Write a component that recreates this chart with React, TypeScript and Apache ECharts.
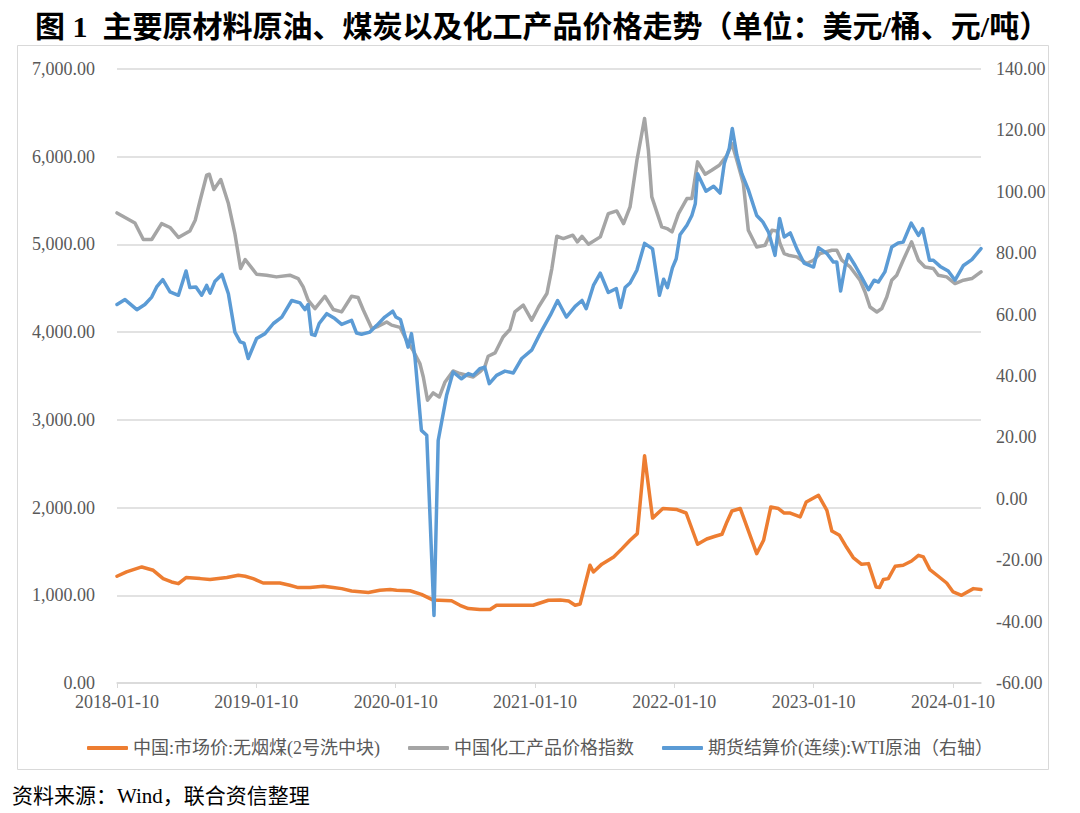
import { useEffect, useRef } from 'react';
import * as echarts from 'echarts';

// 中国:市场价:无烟煤(2号洗中块), 元/吨 (left axis)
const coalPrice: [string, number][] = [
  ['2018-01-10', 1217], ['2018-02-04', 1266], ['2018-03-16', 1323], ['2018-04-15', 1285], ['2018-05-11', 1190],
  ['2018-06-02', 1152], ['2018-06-20', 1133], ['2018-07-10', 1202], ['2018-08-16', 1190], ['2018-09-11', 1179],
  ['2018-10-25', 1202], ['2018-11-24', 1228], ['2018-12-12', 1217], ['2019-01-02', 1190], ['2019-01-28', 1140],
  ['2019-03-13', 1140], ['2019-04-08', 1114], ['2019-04-30', 1088], ['2019-05-31', 1088], ['2019-07-05', 1103],
  ['2019-07-31', 1088], ['2019-08-22', 1076], ['2019-09-17', 1049], ['2019-10-31', 1031], ['2019-11-30', 1057],
  ['2019-12-27', 1065], ['2020-01-13', 1057], ['2020-02-17', 1052], ['2020-03-18', 1011], ['2020-04-18', 945],
  ['2020-06-05', 938], ['2020-06-27', 886], ['2020-07-19', 848], ['2020-08-18', 837], ['2020-09-14', 837],
  ['2020-10-01', 886], ['2021-01-05', 886], ['2021-02-14', 943], ['2021-03-17', 945], ['2021-04-08', 935],
  ['2021-04-25', 886], ['2021-05-08', 900], ['2021-06-03', 1342], ['2021-06-12', 1266], ['2021-07-04', 1355],
  ['2021-08-04', 1437], ['2021-08-26', 1532], ['2021-09-16', 1627], ['2021-10-05', 1703], ['2021-10-24', 2590],
  ['2021-11-14', 1880], ['2021-12-11', 1989], ['2022-01-17', 1977], ['2022-02-10', 1938], ['2022-03-12', 1582],
  ['2022-04-05', 1642], ['2022-04-27', 1673], ['2022-05-15', 1696], ['2022-05-28', 1836], ['2022-06-10', 1961],
  ['2022-07-02', 1989], ['2022-08-14', 1475], ['2022-09-01', 1627], ['2022-09-20', 2007], ['2022-10-10', 1989],
  ['2022-10-25', 1938], ['2022-11-10', 1938], ['2022-12-06', 1893], ['2022-12-22', 2064], ['2023-01-23', 2140],
  ['2023-02-14', 1969], ['2023-02-27', 1733], ['2023-03-19', 1684], ['2023-04-07', 1544], ['2023-04-24', 1430],
  ['2023-05-16', 1353], ['2023-06-03', 1361], ['2023-06-23', 1095], ['2023-07-02', 1088], ['2023-07-12', 1179],
  ['2023-07-25', 1190], ['2023-08-12', 1331], ['2023-09-02', 1342], ['2023-09-24', 1391], ['2023-10-12', 1456],
  ['2023-10-25', 1437], ['2023-11-11', 1293], ['2023-12-03', 1217], ['2023-12-25', 1140], ['2024-01-11', 1038],
  ['2024-02-02', 1000], ['2024-03-04', 1076], ['2024-03-24', 1065]
];

// 中国化工产品价格指数 (left axis)
const chemIndex: [string, number][] = [
  ['2018-01-10', 5359], ['2018-02-26', 5245], ['2018-03-20', 5056], ['2018-04-11', 5056], ['2018-05-07', 5238],
  ['2018-05-29', 5193], ['2018-06-20', 5079], ['2018-07-20', 5154], ['2018-08-03', 5276], ['2018-08-16', 5504],
  ['2018-09-02', 5789], ['2018-09-09', 5800], ['2018-09-21', 5626], ['2018-10-09', 5740], ['2018-10-29', 5466],
  ['2018-11-15', 5124], ['2018-11-30', 4725], ['2018-12-12', 4828], ['2019-01-11', 4660], ['2019-02-06', 4649],
  ['2019-03-04', 4630], ['2019-04-08', 4649], ['2019-04-30', 4611], ['2019-05-13', 4515], ['2019-05-26', 4364],
  ['2019-06-13', 4269], ['2019-07-09', 4409], ['2019-07-31', 4258], ['2019-08-22', 4231], ['2019-09-17', 4409],
  ['2019-10-04', 4395], ['2019-10-18', 4250], ['2019-11-09', 4041], ['2019-11-26', 4067], ['2019-12-18', 4115],
  ['2019-12-31', 4080], ['2020-01-22', 4055], ['2020-02-08', 3908], ['2020-02-25', 3794], ['2020-03-14', 3642],
  ['2020-03-23', 3489], ['2020-04-03', 3224], ['2020-04-18', 3307], ['2020-05-04', 3261], ['2020-05-19', 3432],
  ['2020-06-09', 3558], ['2020-06-27', 3528], ['2020-08-01', 3489], ['2020-08-18', 3546], ['2020-08-31', 3603],
  ['2020-09-09', 3725], ['2020-09-27', 3763], ['2020-10-18', 3945], ['2020-11-05', 4030], ['2020-11-18', 4230],
  ['2020-12-10', 4307], ['2021-01-01', 4136], ['2021-01-19', 4287], ['2021-02-10', 4440], ['2021-02-23', 4725],
  ['2021-03-08', 5093], ['2021-03-25', 5067], ['2021-04-19', 5105], ['2021-05-01', 5029], ['2021-05-13', 5093],
  ['2021-05-30', 5002], ['2021-06-30', 5086], ['2021-07-21', 5352], ['2021-08-12', 5382], ['2021-08-30', 5238],
  ['2021-09-16', 5428], ['2021-10-04', 5960], ['2021-10-24', 6436], ['2021-11-03', 6074], ['2021-11-12', 5542],
  ['2021-12-08', 5200], ['2021-12-22', 5181], ['2022-01-04', 5143], ['2022-01-21', 5352], ['2022-02-12', 5523],
  ['2022-02-25', 5523], ['2022-03-12', 5941], ['2022-04-01', 5800], ['2022-04-18', 5846], ['2022-05-08', 5903],
  ['2022-05-28', 6017], ['2022-06-10', 6150], ['2022-06-23', 5960], ['2022-07-10', 5694], ['2022-07-23', 5162],
  ['2022-08-14', 4971], ['2022-09-05', 4991], ['2022-09-23', 5162], ['2022-10-06', 5154], ['2022-10-14', 5010],
  ['2022-10-25', 4896], ['2022-11-05', 4877], ['2022-11-27', 4858], ['2022-12-23', 4782], ['2023-01-10', 4820],
  ['2023-01-27', 4896], ['2023-02-27', 4934], ['2023-03-12', 4934], ['2023-03-25', 4820], ['2023-04-16', 4743],
  ['2023-05-12', 4592], ['2023-05-25', 4458], ['2023-06-07', 4287], ['2023-06-25', 4230], ['2023-07-08', 4269],
  ['2023-07-21', 4401], ['2023-08-03', 4592], ['2023-08-16', 4649], ['2023-09-02', 4820], ['2023-09-24', 5029],
  ['2023-10-12', 4820], ['2023-10-29', 4743], ['2023-11-20', 4725], ['2023-12-03', 4649], ['2023-12-25', 4630],
  ['2024-01-16', 4554], ['2024-02-07', 4592], ['2024-02-29', 4611], ['2024-03-24', 4687]
];

// 期货结算价(连续):WTI原油, 美元/桶 (right axis)
const wtiPrice: [string, number][] = [
  ['2018-01-10', 63.3], ['2018-01-31', 64.9], ['2018-03-03', 61.6], ['2018-03-24', 63.3], ['2018-04-11', 65.7],
  ['2018-04-24', 69.0], ['2018-05-10', 71.4], ['2018-05-29', 67.4], ['2018-06-20', 66.3], ['2018-07-10', 74.2],
  ['2018-07-20', 68.8], ['2018-08-05', 69.0], ['2018-08-20', 66.3], ['2018-09-02', 69.5], ['2018-09-11', 67.0],
  ['2018-09-24', 70.9], ['2018-10-12', 73.1], ['2018-10-29', 66.8], ['2018-11-15', 54.3], ['2018-11-29', 51.1],
  ['2018-12-09', 50.7], ['2018-12-20', 45.7], ['2019-01-11', 52.2], ['2019-02-02', 53.8], ['2019-02-24', 57.1],
  ['2019-03-18', 59.2], ['2019-04-13', 64.6], ['2019-05-05', 63.8], ['2019-05-18', 61.6], ['2019-05-26', 63.3],
  ['2019-06-04', 53.6], ['2019-06-13', 53.2], ['2019-06-24', 57.1], ['2019-07-14', 60.3], ['2019-08-04', 58.7],
  ['2019-08-22', 56.8], ['2019-09-17', 58.1], ['2019-09-30', 54.0], ['2019-10-13', 53.6], ['2019-11-04', 54.3],
  ['2019-11-22', 56.5], ['2019-12-13', 59.2], ['2020-01-03', 61.1], ['2020-01-11', 59.2], ['2020-01-23', 58.4],
  ['2020-02-12', 49.4], ['2020-02-21', 53.8], ['2020-03-01', 46.2], ['2020-03-18', 22.3], ['2020-04-01', 20.7],
  ['2020-04-20', -38.0], ['2020-05-01', 19.0], ['2020-05-23', 33.7], ['2020-06-09', 41.3], ['2020-07-01', 39.1],
  ['2020-07-19', 40.8], ['2020-08-01', 40.2], ['2020-08-18', 42.4], ['2020-08-31', 42.9], ['2020-09-12', 37.5],
  ['2020-10-01', 40.2], ['2020-10-23', 41.6], ['2020-11-14', 41.0], ['2020-12-06', 45.7], ['2021-01-01', 48.4],
  ['2021-01-23', 53.8], ['2021-02-19', 59.8], ['2021-03-10', 64.6], ['2021-04-02', 59.2], ['2021-04-25', 62.7],
  ['2021-05-13', 64.6], ['2021-05-24', 61.9], ['2021-06-12', 69.5], ['2021-06-30', 73.5], ['2021-07-21', 67.2],
  ['2021-08-11', 68.5], ['2021-08-22', 62.3], ['2021-09-03', 68.8], ['2021-09-16', 70.3], ['2021-10-04', 74.5],
  ['2021-10-24', 83.2], ['2021-11-14', 81.4], ['2021-12-02', 66.3], ['2021-12-13', 71.5], ['2021-12-23', 68.8],
  ['2022-01-05', 75.2], ['2022-01-15', 78.2], ['2022-01-25', 86.0], ['2022-02-12', 89.1], ['2022-02-25', 92.3],
  ['2022-03-06', 96.1], ['2022-03-12', 105.9], ['2022-04-03', 100.2], ['2022-04-23', 101.8], ['2022-05-10', 99.6],
  ['2022-05-21', 109.2], ['2022-06-03', 114.1], ['2022-06-11', 120.6], ['2022-06-23', 111.9], ['2022-07-06', 105.9],
  ['2022-07-23', 100.7], ['2022-08-14', 92.3], ['2022-08-30', 90.2], ['2022-09-14', 86.9], ['2022-10-01', 79.3],
  ['2022-10-13', 91.3], ['2022-10-25', 85.3], ['2022-11-10', 86.6], ['2022-11-27', 81.5], ['2022-12-16', 76.8],
  ['2023-01-10', 75.5], ['2023-01-23', 81.8], ['2023-02-14', 79.9], ['2023-03-03', 77.1], ['2023-03-12', 77.1],
  ['2023-03-22', 67.7], ['2023-04-03', 76.0], ['2023-04-11', 79.6], ['2023-04-29', 76.0], ['2023-05-16', 72.2],
  ['2023-06-03', 68.1], ['2023-06-18', 71.2], ['2023-06-29', 70.6], ['2023-07-16', 73.9], ['2023-08-03', 82.0],
  ['2023-08-20', 83.3], ['2023-09-02', 83.6], ['2023-09-23', 89.8], ['2023-10-12', 85.8], ['2023-10-23', 88.0],
  ['2023-11-10', 77.7], ['2023-11-20', 77.7], ['2023-12-08', 75.7], ['2023-12-29', 74.2], ['2024-01-16', 71.2],
  ['2024-02-07', 76.0], ['2024-02-29', 77.9], ['2024-03-24', 81.5]
];

const seriesNames = ['中国:市场价:无烟煤(2号洗中块)', '中国化工产品价格指数', '期货结算价(连续):WTI原油（右轴）'];
const seriesColors = ['#ED7D31', '#A5A5A5', '#5B9BD5'];

const startDate = '2018-01-10';
const endDate = '2024-03-24';

const titleText = '图 1  主要原材料原油、煤炭以及化工产品价格走势（单位：美元/桶、元/吨）';
const sourceText = '资料来源：Wind，联合资信整理';

const DAY = 86400000;
const YEAR = 365.25 * DAY;
const FONT = "'Liberation Serif', 'Noto Sans CJK SC', serif";

const toPoints = (rows: [string, number][]) => rows.map(([d, v]) => [Date.parse(d), v]);

const withCommas = (v: number) => {
  const [i, f] = v.toFixed(2).split('.');
  return i.replace(/\B(?=(\d{3})+(?!\d))/g, ',') + '.' + f;
};

export default function App() {
  const ref = useRef<HTMLDivElement>(null);

  useEffect(() => {
    if (!ref.current) return;
    const chart = echarts.init(ref.current, null, { renderer: 'svg' });
    const xMin = Date.parse(startDate);
    const xMax = Date.parse(endDate);

    const lineSeries = [coalPrice, chemIndex, wtiPrice].map((rows, i) => ({
      name: seriesNames[i],
      type: 'line' as const,
      yAxisIndex: i === 2 ? 1 : 0,
      data: toPoints(rows),
      showSymbol: false,
      color: seriesColors[i],
      lineStyle: { width: 3.5, color: seriesColors[i], cap: 'round' as const, join: 'round' as const }
    }));

    chart.setOption({
      animation: false,
      backgroundColor: '#fff',
      title: {
        text: titleText,
        left: 30,
        top: 6,
        textStyle: { fontFamily: FONT, fontSize: 30, fontWeight: 'bold', color: '#000' }
      },
      graphic: [
        {
          type: 'rect',
          shape: { x: 17.5, y: 45.5, width: 1031, height: 724 },
          style: { fill: 'none', stroke: '#d9d9d9', lineWidth: 1 },
          silent: true
        },
        {
          type: 'text',
          left: 12,
          top: 785,
          style: { text: sourceText, font: `21px ${FONT}`, fill: '#000' }
        }
      ],
      legend: {
        left: 82,
        top: 734,
        itemWidth: 41,
        itemHeight: 4,
        itemGap: 28,
        icon: 'roundRect',
        textStyle: { fontFamily: FONT, fontSize: 18, color: '#595959' },
        data: seriesNames
      },
      grid: { left: 117, right: 99, top: 69, bottom: 130 },
      xAxis: {
        type: 'value',
        min: xMin,
        max: xMax,
        interval: YEAR,
        axisLine: { lineStyle: { color: '#d9d9d9', width: 1.5 } },
        axisTick: { length: 5, lineStyle: { color: '#d9d9d9' } },
        splitLine: { show: false },
        axisLabel: {
          showMaxLabel: false,
          margin: 10,
          fontFamily: FONT,
          fontSize: 18,
          color: '#595959',
          formatter: (v: number) => {
            const k = Math.round((v - xMin) / YEAR);
            if (Math.abs(v - (xMin + k * YEAR)) > DAY) return '';
            return `${2018 + k}-01-10`;
          }
        }
      },
      yAxis: [
        {
          type: 'value',
          min: 0,
          max: 7000,
          interval: 1000,
          axisLine: { show: false },
          axisTick: { show: false },
          splitLine: { lineStyle: { color: '#d9d9d9', width: 1.5 } },
          axisLabel: { margin: 22, fontFamily: FONT, fontSize: 18, color: '#595959', formatter: withCommas }
        },
        {
          type: 'value',
          min: -60,
          max: 140,
          interval: 20,
          axisLine: { show: false },
          axisTick: { show: false },
          splitLine: { show: false },
          axisLabel: {
            margin: 15,
            fontFamily: FONT,
            fontSize: 18,
            color: '#595959',
            formatter: (v: number) => v.toFixed(2)
          }
        }
      ],
      series: lineSeries
    });

    return () => chart.dispose();
  }, []);

  return <div ref={ref} style={{ position: 'absolute', left: 0, top: 0, width: 1080, height: 813 }} />;
}
